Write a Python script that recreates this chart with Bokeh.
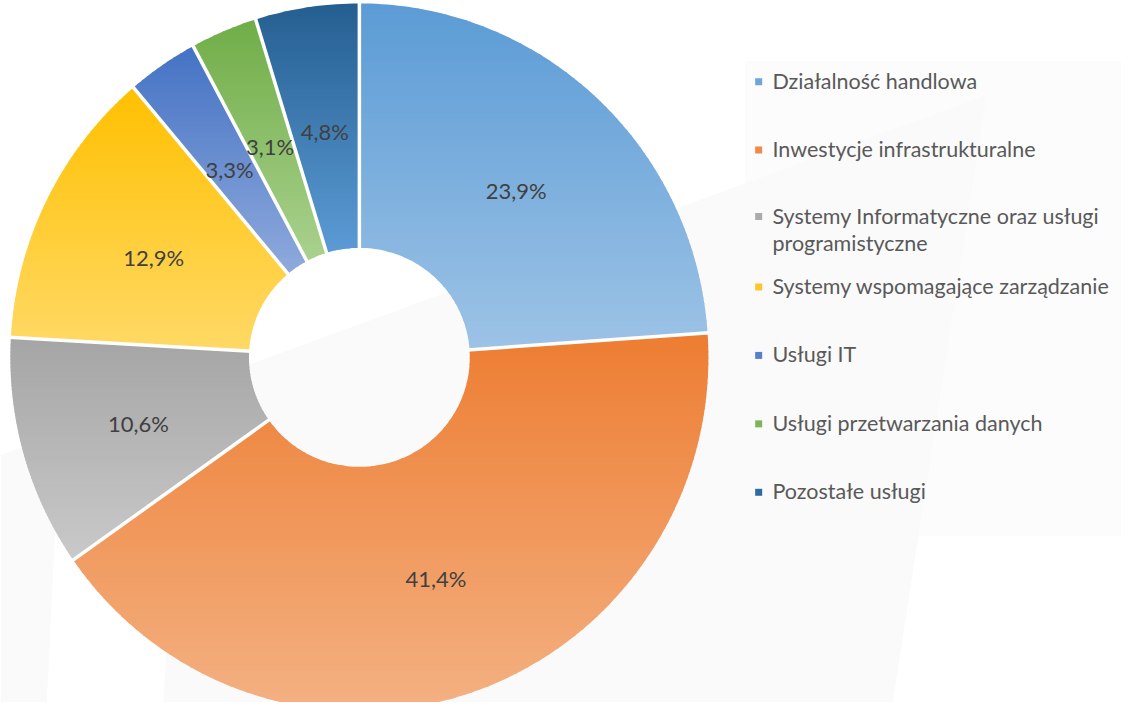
import numpy as np
from bokeh.plotting import figure
from bokeh.models import Range1d, ColumnDataSource
from bokeh.core.properties import value
from bokeh.embed import file_html
from bokeh.resources import INLINE

# ---------------- data ----------------
categories = [
    "Działalność handlowa",
    "Inwestycje infrastrukturalne",
    "Systemy Informatyczne oraz usługi\nprogramistyczne",
    "Systemy wspomagające zarządzanie",
    "Usługi IT",
    "Usługi przetwarzania danych",
    "Pozostałe usługi",
]
shares = [23.9, 41.4, 10.6, 12.9, 3.3, 3.1, 4.8]
top_colors = ["#5B9BD5", "#ED7D31", "#A5A5A5", "#FFC000", "#4472C4", "#70AD47", "#255E91"]
bottom_colors = ["#9DC3E6", "#F4B183", "#C9C9C9", "#FFD966", "#8FAADC", "#A9D18E", "#5B9BD5"]
legend_colors = ["#6FA6DA", "#EF8A47", "#ABABAB", "#FFC629", "#5580CB", "#7DB55A", "#2F6BA3"]

# ---------------- geometry (pixel-like data units, y downward) ----------------
CX, CY = 364.0, 365.0
RXO, RYO = 354.0, 362.0
RXI, RYI = 112.0, 112.0
N_BANDS = 60

W, H = 1121, 702
p = figure(width=W, height=H, output_backend="svg", toolbar_location=None,
           x_range=Range1d(0, 1137), y_range=Range1d(718, 0),
           min_border=0, background_fill_color="white", border_fill_color="white")
p.outline_line_color = None
p.xaxis.visible = False
p.yaxis.visible = False
p.xgrid.visible = False
p.ygrid.visible = False

# faint background shapes
bg_xs = [[755, 1137, 1137, 755], [165, 185, 1000, 905], [0, 60, 47, 0]]
bg_ys = [[62, 62, 548, 548], [718, 397, 97, 718], [465, 443, 718, 718]]
p.patches(bg_xs, bg_ys, fill_color=["#fcfcfc", "#fafafa", "#fafafa"], line_alpha=0)


def hex2rgb(h):
    h = h.lstrip("#")
    return np.array([int(h[i:i + 2], 16) for i in (0, 2, 4)], dtype=float)


def rgb2hex(c):
    c = np.clip(np.round(c), 0, 255).astype(int)
    return "#%02x%02x%02x" % tuple(c)


def pt(t, rx, ry):
    return (CX + rx * np.sin(t), CY - ry * np.cos(t))


def clip_half(pts, keep, yc):
    out = []
    n = len(pts)
    for i in range(n):
        cur = pts[i]
        prev = pts[i - 1]
        cin, pin = keep(cur), keep(prev)
        if cin != pin:
            tt = (yc - prev[1]) / (cur[1] - prev[1])
            out.append((prev[0] + tt * (cur[0] - prev[0]), yc))
        if cin:
            out.append(cur)
    return out


def clip_band(poly, ylo, yhi):
    pts = clip_half(poly, lambda q: q[1] >= ylo, ylo)
    if len(pts) < 3:
        return []
    pts = clip_half(pts, lambda q: q[1] <= yhi, yhi)
    return pts if len(pts) >= 3 else []


total = float(sum(shares))
fracs = np.array(shares) / total
ends = np.cumsum(fracs) * 2 * np.pi
starts = ends - fracs * 2 * np.pi

band_xs, band_ys, band_cols = [], [], []
for i in range(len(shares)):
    a0, a1 = starts[i], ends[i]
    ts = np.linspace(a0, a1, max(8, int(400 * fracs[i])))
    outer = [pt(t, RXO, RYO) for t in ts]
    inner = [pt(t, RXI, RYI) for t in ts[::-1]]
    poly = outer + inner
    ys_all = [q[1] for q in poly]
    ymin, ymax = min(ys_all), max(ys_all)
    h = (ymax - ymin) / N_BANDS
    c0, c1 = hex2rgb(top_colors[i]), hex2rgb(bottom_colors[i])
    for k in range(N_BANDS):
        lo = ymin + k * h - 0.6
        hi = ymin + (k + 1) * h + 0.6
        piece = clip_band(poly, lo, hi)
        if not piece:
            continue
        f = (k + 0.5) / N_BANDS
        band_xs.append([q[0] for q in piece])
        band_ys.append([q[1] for q in piece])
        band_cols.append(rgb2hex(c0 + (c1 - c0) * f))

p.patches(xs="xs", ys="ys", fill_color="c", line_alpha=0,
          source=ColumnDataSource(dict(xs=band_xs, ys=band_ys, c=band_cols)))

# white separators between slices
sx0, sy0, sx1, sy1 = [], [], [], []
for a in starts:
    x0, y0 = pt(a, RXI - 2, RYI - 2)
    x1, y1 = pt(a, RXO + 2, RYO + 2)
    sx0.append(x0); sy0.append(y0); sx1.append(x1); sy1.append(y1)
p.segment(sx0, sy0, sx1, sy1, line_color="white", line_width=3.5)

# data labels
lx, ly, lt = [], [], []
mids = (starts + ends) / 2
for i, m in enumerate(mids):
    x, y = pt(m, (RXO + RXI) / 2, (RYO + RYI) / 2)
    lx.append(x)
    ly.append(y)
    lt.append(("%.1f" % shares[i]).replace(".", ",") + "%")
p.text(lx, ly, text=lt, text_font=value("Lato"), text_font_size="22px",
       text_color="#404040", text_align="center", text_baseline="middle", y_offset=3)

# legend
LEG_X, LEG_Y0, LEG_DY, LINE_DY = 769, 82, 70, 28
mx, my, tx, ty, tt = [], [], [], [], []
for i, cat in enumerate(categories):
    yrow = LEG_Y0 + LEG_DY * i
    lines = cat.split("\n")
    if len(lines) > 1:
        yrow -= 2
    mx.append(LEG_X)
    my.append(yrow + 1)
    for j, line in enumerate(lines):
        tx.append(LEG_X + 14)
        ty.append(yrow + j * LINE_DY)
        tt.append(line)
p.scatter(mx, my, marker="square", size=7, fill_color=legend_colors, line_alpha=0)
p.text(tx, ty, text=tt, text_font=value("Lato"), text_font_size="21.5px",
       text_color="#595959", text_align="left", text_baseline="middle")

open("out.html", "w").write(file_html(p, INLINE))
